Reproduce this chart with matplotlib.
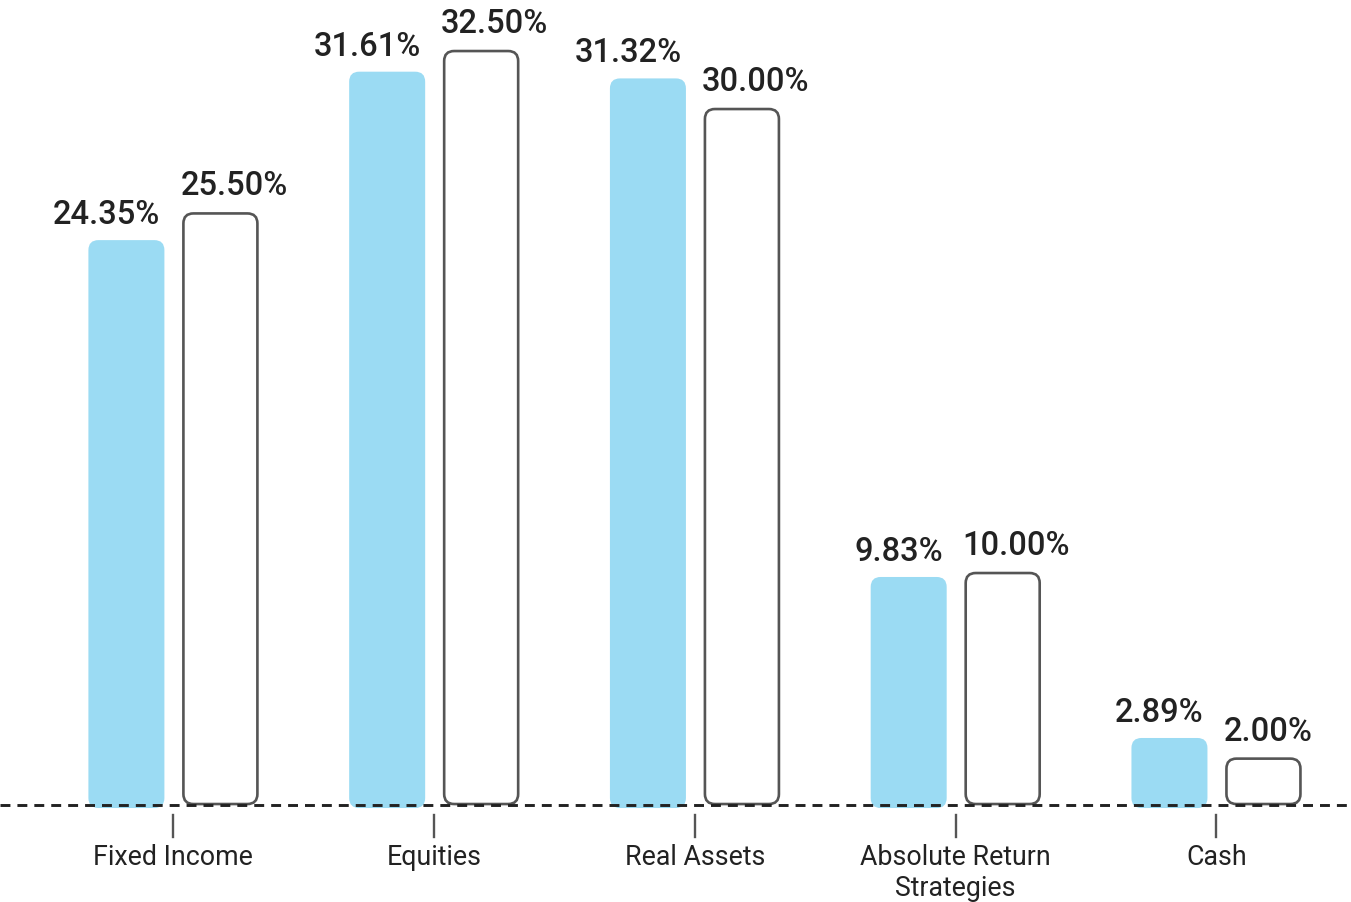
import matplotlib
matplotlib.use("Agg")
import matplotlib.pyplot as plt
from matplotlib.patches import FancyBboxPatch
import numpy as np

categories = ["Fixed Income", "Equities", "Real Assets", "Absolute Return\nStrategies", "Cash"]
actual = [24.35, 31.61, 31.32, 9.83, 2.89]
target = [25.50, 32.50, 30.00, 10.00, 2.00]

plt.rcParams['font.family'] = ['Roboto', 'DejaVu Sans']

W, H = 1351, 902
fig = plt.figure(figsize=(W / 100, H / 100), dpi=100)
ax = fig.add_axes([0, 0, 1, 1])

xlim = (-0.665, 4.516)
ylim = (-4.18, 34.7)
ax.set_xlim(*xlim)
ax.set_ylim(*ylim)
ax.axis("off")

px_x = (xlim[1] - xlim[0]) / W   # data units per pixel in x
px_y = (ylim[1] - ylim[0]) / H   # data units per pixel in y
aspect = px_y / px_x

bar_w = 76 * px_x
off = 47 * px_x
radius = 10 * px_x

blue = "#9BDBF3"
edge = "#555555"

x = np.arange(len(categories))

for i, (a, t) in enumerate(zip(actual, target)):
    xb = x[i] - off
    xw = x[i] + off
    # actual (filled)
    yb0 = -3 * px_y
    p = FancyBboxPatch((xb - bar_w / 2, yb0), bar_w, a - yb0,
                       boxstyle=f"round,pad=0,rounding_size={radius}",
                       mutation_aspect=aspect, facecolor=blue, edgecolor="none", zorder=2)
    ax.add_patch(p)
    # target (outline)
    yw0 = 1 * px_y
    q = FancyBboxPatch((xw - bar_w / 2 + 1 * px_x, yw0), bar_w - 2 * px_x, t - yw0,
                       boxstyle=f"round,pad=0,rounding_size={radius}",
                       mutation_aspect=aspect, facecolor="white", edgecolor=edge,
                       linewidth=1.9, zorder=2)
    ax.add_patch(q)
    ax.annotate(f"{a:.2f}%", (xb + bar_w / 2, a), xytext=(-4, 9), textcoords="offset pixels",
                ha="right", va="bottom", fontsize=23.5, fontweight="medium", color="#222222")
    ax.annotate(f"{t:.2f}%", (xw - bar_w / 2, t), xytext=(-2, 11), textcoords="offset pixels",
                ha="left", va="bottom", fontsize=23.5, fontweight="medium", color="#222222")
    # tick
    ax.plot([x[i], x[i]], [-10 * px_y, -32 * px_y], color=edge, lw=1.7, zorder=1)
    ax.text(x[i], -39 * px_y, categories[i], ha="center", va="top", fontsize=19.3,
            color="#222222", linespacing=1.2)

ax.axhline(0, color="#222222", lw=2.1, ls=(0, (3.4, 2.4)), zorder=3)

fig.savefig("out.png", dpi=100)
